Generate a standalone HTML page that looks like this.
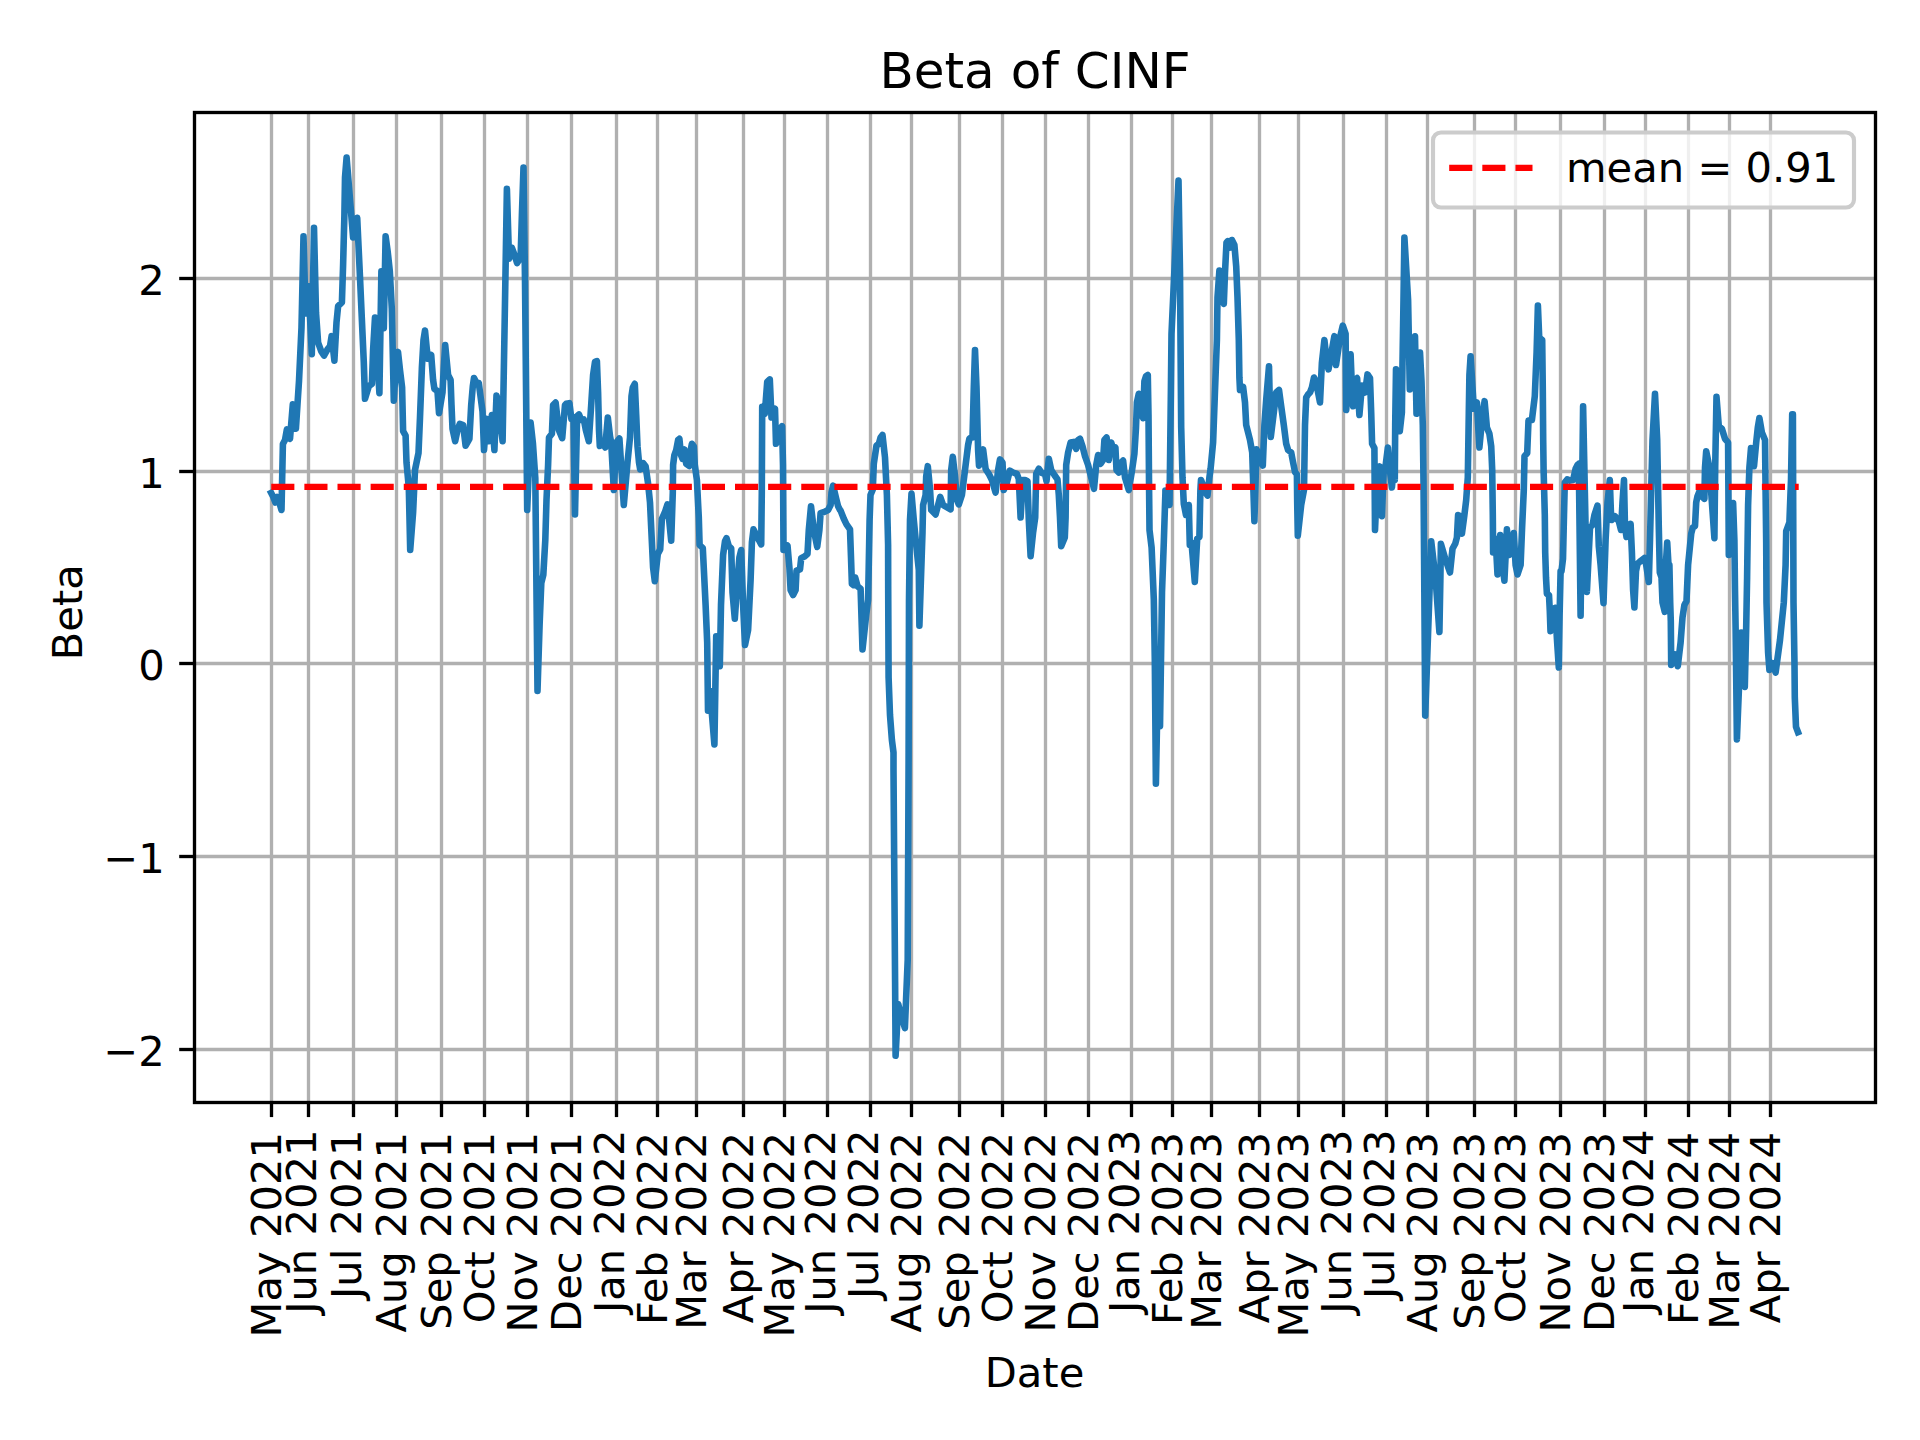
<!DOCTYPE html>
<html><head><meta charset="utf-8"><title>Beta of CINF</title>
<style>html,body{margin:0;padding:0;background:#fff}svg{display:block}text{font-family:"DejaVu Sans","Liberation Sans",sans-serif;fill:#000}</style></head><body>
<svg width="1920" height="1440" viewBox="0 0 1920 1440">
<rect width="1920" height="1440" fill="#fff"/>
<g stroke="#b0b0b0" stroke-width="3.333" fill="none">
<line x1="271.50" y1="112.50" x2="271.50" y2="1102.50"/>
<line x1="308.50" y1="112.50" x2="308.50" y2="1102.50"/>
<line x1="353.50" y1="112.50" x2="353.50" y2="1102.50"/>
<line x1="396.50" y1="112.50" x2="396.50" y2="1102.50"/>
<line x1="441.50" y1="112.50" x2="441.50" y2="1102.50"/>
<line x1="484.50" y1="112.50" x2="484.50" y2="1102.50"/>
<line x1="527.50" y1="112.50" x2="527.50" y2="1102.50"/>
<line x1="571.50" y1="112.50" x2="571.50" y2="1102.50"/>
<line x1="616.50" y1="112.50" x2="616.50" y2="1102.50"/>
<line x1="657.50" y1="112.50" x2="657.50" y2="1102.50"/>
<line x1="696.50" y1="112.50" x2="696.50" y2="1102.50"/>
<line x1="743.50" y1="112.50" x2="743.50" y2="1102.50"/>
<line x1="784.50" y1="112.50" x2="784.50" y2="1102.50"/>
<line x1="827.50" y1="112.50" x2="827.50" y2="1102.50"/>
<line x1="870.50" y1="112.50" x2="870.50" y2="1102.50"/>
<line x1="911.50" y1="112.50" x2="911.50" y2="1102.50"/>
<line x1="959.50" y1="112.50" x2="959.50" y2="1102.50"/>
<line x1="1002.50" y1="112.50" x2="1002.50" y2="1102.50"/>
<line x1="1045.50" y1="112.50" x2="1045.50" y2="1102.50"/>
<line x1="1088.50" y1="112.50" x2="1088.50" y2="1102.50"/>
<line x1="1131.50" y1="112.50" x2="1131.50" y2="1102.50"/>
<line x1="1172.50" y1="112.50" x2="1172.50" y2="1102.50"/>
<line x1="1211.50" y1="112.50" x2="1211.50" y2="1102.50"/>
<line x1="1259.50" y1="112.50" x2="1259.50" y2="1102.50"/>
<line x1="1298.50" y1="112.50" x2="1298.50" y2="1102.50"/>
<line x1="1343.50" y1="112.50" x2="1343.50" y2="1102.50"/>
<line x1="1386.50" y1="112.50" x2="1386.50" y2="1102.50"/>
<line x1="1427.50" y1="112.50" x2="1427.50" y2="1102.50"/>
<line x1="1474.50" y1="112.50" x2="1474.50" y2="1102.50"/>
<line x1="1515.50" y1="112.50" x2="1515.50" y2="1102.50"/>
<line x1="1560.50" y1="112.50" x2="1560.50" y2="1102.50"/>
<line x1="1604.50" y1="112.50" x2="1604.50" y2="1102.50"/>
<line x1="1645.50" y1="112.50" x2="1645.50" y2="1102.50"/>
<line x1="1688.50" y1="112.50" x2="1688.50" y2="1102.50"/>
<line x1="1729.50" y1="112.50" x2="1729.50" y2="1102.50"/>
<line x1="1770.50" y1="112.50" x2="1770.50" y2="1102.50"/>
<line x1="194.50" y1="278.50" x2="1875.50" y2="278.50"/>
<line x1="194.50" y1="471.50" x2="1875.50" y2="471.50"/>
<line x1="194.50" y1="663.50" x2="1875.50" y2="663.50"/>
<line x1="194.50" y1="856.50" x2="1875.50" y2="856.50"/>
<line x1="194.50" y1="1049.50" x2="1875.50" y2="1049.50"/>
</g>
<polyline fill="none" stroke="#1f77b4" stroke-width="6.6" stroke-linejoin="round" stroke-linecap="square" points="271.2,493.0 273.3,497.0 275.4,502.5 277.4,497.0 279.5,503.0 281.5,510.0 282.9,444.0 285.0,440.0 286.9,429.4 290.0,438.8 292.8,404.4 295.9,428.8 299.0,381.0 301.5,327.5 303.5,236.4 305.6,313.5 308.6,286.4 311.8,354.2 314.0,227.7 316.0,312.5 318.1,342.5 321.2,351.2 324.0,355.6 327.5,349.4 330.0,346.2 331.6,336.2 334.4,360.6 336.5,322.5 338.1,306.2 341.9,302.5 343.1,265.0 344.4,215.0 345.0,177.5 346.6,157.5 353.1,237.5 357.2,217.8 360.0,277.5 361.8,318.0 363.8,362.5 365.0,398.8 368.8,386.2 371.9,383.8 373.1,350.0 375.0,317.5 376.9,350.0 379.4,393.1 381.4,271.2 383.8,328.1 385.6,236.2 387.8,252.5 389.8,271.2 391.8,308.8 393.8,400.6 396.0,362.5 398.0,351.9 400.0,370.0 402.1,387.5 403.1,431.2 405.6,435.6 406.5,462.5 408.8,487.5 410.2,550.0 413.1,512.5 415.0,470.0 418.5,453.0 420.0,417.5 421.9,367.5 423.5,340.0 425.0,330.6 426.9,350.0 428.1,358.8 431.2,355.0 433.1,380.0 434.4,388.8 437.5,391.2 439.0,413.1 442.5,392.5 443.8,367.5 445.2,345.0 448.1,375.0 450.6,380.0 451.5,405.0 452.5,428.8 455.2,441.2 457.5,430.0 459.8,423.8 463.1,425.0 465.6,445.6 469.4,438.8 471.2,405.0 472.8,386.2 474.0,378.1 476.9,383.8 478.8,383.1 482.5,411.2 484.0,450.0 486.5,418.8 488.8,441.2 491.9,415.0 494.4,450.0 496.5,395.6 498.5,403.8 500.6,423.8 502.6,441.2 504.7,320.0 506.9,188.8 509.0,258.8 511.9,247.8 515.0,256.2 517.1,263.1 520.6,257.5 521.9,215.0 523.5,167.5 525.0,280.0 527.2,510.0 530.6,422.5 532.9,443.0 535.3,478.0 537.5,691.0 539.6,625.0 541.3,583.0 543.3,575.0 545.3,540.0 546.5,500.0 548.1,465.0 549.0,437.5 551.9,433.8 553.1,405.0 555.6,402.5 558.8,430.0 562.2,438.1 565.0,405.0 566.2,403.8 569.4,403.1 571.4,418.8 573.5,417.5 575.0,514.4 577.1,416.2 579.0,414.4 581.2,420.0 583.8,419.4 585.8,430.0 588.8,441.2 591.2,405.0 593.1,375.0 595.0,361.9 596.9,361.2 598.1,392.5 599.0,430.0 599.8,446.0 602.5,441.0 605.2,447.5 607.8,417.5 610.0,436.2 611.2,442.5 613.8,490.0 616.2,442.5 619.4,438.5 623.8,505.0 627.5,462.5 630.0,437.5 631.5,396.2 632.8,387.5 634.8,383.8 636.2,415.0 637.5,446.2 639.0,462.5 640.2,469.4 643.1,463.1 645.6,466.2 648.1,483.8 650.0,502.5 651.9,542.5 653.1,567.5 654.8,581.2 657.8,553.8 660.2,549.4 661.9,518.8 664.8,512.5 667.5,504.4 669.4,522.5 671.2,540.6 672.8,492.5 673.1,465.0 674.4,455.0 676.2,450.0 678.1,440.0 679.4,438.8 681.0,455.0 682.5,458.8 684.4,449.4 686.2,463.8 689.4,466.0 690.2,452.5 691.9,443.8 693.8,446.2 694.8,465.0 696.9,480.0 698.8,517.5 699.6,545.0 702.8,548.1 705.6,605.0 707.2,642.5 708.0,710.6 710.0,690.6 714.4,744.4 716.2,636.2 719.8,666.2 721.0,605.0 723.1,555.0 725.0,541.2 726.5,538.1 728.8,546.2 731.2,548.5 732.5,592.5 734.8,618.8 737.5,580.0 739.4,557.5 741.2,550.0 743.1,605.0 745.0,645.0 748.1,630.0 750.6,580.0 751.9,542.5 753.5,529.4 756.9,536.2 761.2,544.4 761.8,492.5 762.2,406.9 764.8,413.8 767.2,381.9 769.8,379.4 771.5,417.5 773.1,411.2 775.0,408.8 776.0,443.8 780.0,430.0 782.1,426.2 783.0,465.0 783.5,550.0 787.5,545.6 789.4,567.5 790.6,590.0 793.1,595.0 795.6,590.0 796.5,570.6 800.0,569.4 801.2,558.1 805.0,556.2 807.5,553.8 808.8,530.0 811.0,506.2 813.8,530.0 817.2,546.9 819.4,530.0 820.6,513.1 824.4,511.9 828.1,510.0 830.6,505.0 831.5,492.5 833.1,485.6 836.2,498.8 838.1,506.2 840.0,510.0 840.6,510.6 843.8,518.8 846.5,524.4 850.0,529.4 851.0,557.5 851.9,583.8 853.5,585.0 855.2,577.5 857.5,586.2 860.6,588.8 862.5,649.4 866.2,615.0 868.1,600.0 869.6,520.0 870.5,495.0 872.8,489.4 873.8,463.8 876.5,445.6 878.8,443.8 880.6,437.5 882.5,435.0 885.0,457.5 886.9,495.0 888.1,545.0 888.2,590.0 888.6,677.5 890.0,715.0 891.9,740.0 893.5,752.5 893.5,770.0 895.1,982.0 895.6,1055.8 898.2,1004.0 901.0,1015.0 904.9,1028.0 907.7,960.0 908.6,760.0 909.0,600.0 910.0,520.0 911.5,493.8 913.8,520.0 916.2,545.0 918.8,570.0 919.4,625.6 922.5,532.5 923.1,505.0 925.6,495.0 926.2,476.2 927.8,466.2 930.0,488.8 931.2,510.0 935.6,514.4 938.1,505.0 940.2,496.9 943.1,505.0 945.0,506.2 950.6,509.4 951.2,470.0 952.8,456.9 955.0,476.2 956.9,500.0 958.8,504.4 961.9,495.0 965.0,470.0 968.1,445.0 969.4,438.8 971.2,437.5 972.5,437.5 973.8,387.5 975.0,350.0 976.5,387.5 978.1,450.0 979.0,465.6 983.1,449.4 985.6,468.8 986.2,470.0 988.8,473.8 991.9,480.0 995.6,492.5 998.1,470.0 1000.0,459.4 1002.5,462.5 1003.8,490.0 1006.9,482.5 1009.8,470.6 1013.1,472.5 1016.9,473.8 1018.8,478.8 1020.6,517.5 1022.8,480.0 1025.0,480.0 1027.5,481.2 1028.8,520.0 1030.6,556.2 1033.1,532.5 1035.2,517.5 1036.2,473.8 1038.8,468.8 1041.9,473.1 1045.0,473.8 1046.5,481.2 1048.8,458.8 1051.2,470.0 1054.4,475.0 1057.5,479.4 1058.8,495.0 1060.0,517.5 1061.2,546.2 1064.8,537.5 1065.6,517.5 1066.2,465.0 1068.1,452.5 1070.6,442.5 1073.8,441.9 1076.2,448.8 1078.1,440.0 1080.0,438.8 1082.5,446.2 1085.0,456.2 1088.1,465.0 1091.2,477.5 1094.0,488.8 1096.2,465.0 1098.1,455.0 1100.6,463.8 1103.1,460.0 1104.4,440.0 1106.6,437.5 1108.8,460.0 1111.2,442.5 1113.1,448.8 1115.4,447.5 1116.5,470.0 1118.8,472.5 1121.2,462.5 1123.1,460.6 1125.0,477.5 1128.8,490.0 1131.9,471.2 1134.4,453.8 1136.0,427.5 1136.9,402.5 1138.8,393.8 1140.4,400.0 1141.9,415.0 1143.1,418.1 1144.4,381.2 1146.0,376.2 1147.8,375.0 1148.5,415.0 1149.0,480.0 1149.5,530.0 1151.6,547.5 1153.8,598.8 1154.8,660.0 1155.9,783.8 1157.9,677.5 1160.0,726.2 1162.0,592.5 1163.8,542.5 1165.4,492.5 1165.4,490.6 1167.5,495.0 1169.5,505.0 1170.0,465.0 1170.9,390.0 1171.5,333.8 1178.5,180.6 1180.0,272.5 1180.5,340.0 1181.2,427.5 1182.5,477.5 1183.8,503.8 1186.0,515.0 1188.8,505.0 1189.8,545.0 1191.5,542.5 1194.8,581.9 1197.2,538.8 1199.4,536.9 1200.4,490.0 1201.0,480.0 1203.8,487.5 1205.6,492.5 1207.5,495.6 1209.4,477.5 1210.6,468.8 1213.1,442.5 1214.8,396.2 1216.9,340.0 1217.5,297.5 1219.4,270.6 1221.9,297.5 1223.8,303.8 1225.0,272.5 1226.5,242.5 1227.8,241.2 1229.8,247.5 1231.9,240.0 1234.4,245.0 1236.2,266.2 1237.5,297.5 1238.8,340.0 1239.4,377.5 1240.0,390.0 1243.1,386.9 1245.0,402.5 1246.2,425.0 1250.0,440.0 1252.2,452.5 1254.4,521.2 1256.5,449.4 1260.0,460.0 1262.8,465.6 1264.4,425.0 1266.2,400.0 1269.0,366.2 1270.0,412.5 1270.8,436.9 1273.8,412.5 1276.2,392.5 1279.0,390.0 1281.2,406.2 1283.8,425.0 1286.2,443.8 1288.1,450.0 1291.2,452.5 1293.1,462.5 1295.0,471.9 1296.9,474.4 1297.2,502.5 1297.8,535.6 1301.2,505.0 1304.0,490.0 1305.0,425.0 1306.2,397.5 1308.1,394.4 1310.0,392.5 1311.9,387.5 1314.0,377.5 1315.9,381.2 1320.0,402.5 1321.9,362.5 1324.4,340.0 1326.9,362.5 1328.5,369.4 1331.9,350.0 1334.4,336.2 1336.0,365.0 1340.0,337.5 1342.8,325.6 1345.6,333.8 1346.2,410.0 1348.5,375.0 1350.6,354.4 1351.9,387.5 1353.1,406.2 1355.0,380.0 1357.1,378.1 1359.4,415.0 1361.9,385.6 1365.0,392.5 1367.5,374.4 1370.0,378.1 1371.2,412.5 1372.1,443.8 1374.4,448.1 1375.0,530.0 1377.5,472.5 1379.8,466.5 1381.9,516.2 1383.8,468.8 1385.6,465.6 1387.9,447.5 1390.0,471.2 1391.9,487.5 1394.0,465.0 1394.8,480.0 1395.2,425.0 1396.0,369.4 1397.8,400.0 1399.8,431.2 1401.9,412.5 1402.5,362.5 1403.5,300.0 1404.4,237.5 1408.1,300.0 1409.8,389.4 1412.5,362.5 1415.0,336.2 1416.5,413.8 1418.1,387.5 1420.0,352.5 1421.5,381.2 1422.8,425.0 1423.5,481.2 1424.4,600.0 1425.2,715.6 1430.0,578.0 1431.2,541.2 1435.6,578.8 1439.4,631.9 1440.4,577.5 1440.9,543.8 1445.0,558.0 1450.0,572.5 1452.5,548.8 1455.2,543.8 1456.9,537.5 1458.1,515.0 1460.2,516.2 1461.9,533.8 1464.4,515.0 1466.2,500.0 1467.8,477.5 1468.8,412.5 1469.4,375.0 1470.6,356.2 1472.5,387.5 1473.8,408.8 1476.9,402.5 1478.1,425.0 1479.4,447.5 1482.5,415.0 1484.6,401.2 1486.9,427.5 1489.4,433.8 1491.2,446.2 1492.2,470.0 1492.8,515.0 1493.1,552.5 1495.6,538.8 1497.5,574.4 1500.2,535.0 1502.5,565.0 1504.4,580.6 1506.9,529.4 1509.4,555.0 1511.5,552.5 1513.8,533.1 1515.6,565.0 1517.5,574.4 1520.6,565.0 1522.1,527.5 1523.8,490.0 1524.5,456.2 1527.2,453.1 1528.5,420.6 1531.9,420.0 1534.8,396.2 1536.6,352.5 1537.9,305.6 1539.2,337.5 1542.2,340.0 1542.8,390.0 1543.2,440.0 1543.6,470.0 1544.8,515.0 1545.2,552.5 1546.0,577.5 1546.9,593.8 1549.0,595.0 1549.8,611.2 1550.5,631.2 1553.1,617.5 1555.2,607.8 1557.0,640.0 1558.8,667.5 1559.6,615.0 1560.6,571.2 1561.5,571.2 1563.0,558.8 1564.0,515.0 1564.8,482.5 1567.2,479.4 1570.0,480.6 1573.1,480.0 1575.6,468.8 1577.5,465.0 1578.8,463.8 1580.6,615.6 1583.1,406.2 1586.9,591.9 1590.0,527.5 1592.5,525.0 1594.4,515.0 1597.5,505.6 1598.8,546.2 1600.6,565.0 1603.5,603.1 1605.6,540.0 1607.5,502.5 1609.8,480.0 1611.0,515.0 1611.9,520.0 1615.0,516.2 1618.8,521.2 1621.0,530.0 1622.5,502.5 1624.0,480.0 1625.0,527.5 1626.5,536.9 1630.6,523.8 1631.9,552.5 1633.1,590.0 1634.4,607.5 1636.0,571.2 1637.5,563.8 1641.2,560.6 1644.4,558.1 1646.2,565.0 1648.8,581.9 1650.0,540.0 1651.2,490.0 1652.5,440.0 1655.0,393.8 1657.2,440.0 1658.8,527.5 1659.8,572.5 1661.5,577.5 1662.5,602.5 1664.8,611.9 1665.8,565.0 1667.2,542.5 1668.5,565.0 1669.4,565.0 1670.2,602.5 1670.8,621.2 1671.2,665.0 1675.2,654.4 1677.8,666.2 1680.6,642.5 1682.5,617.5 1684.4,605.0 1686.5,601.2 1688.1,565.0 1691.2,533.8 1692.8,527.5 1695.0,526.2 1696.2,502.5 1697.5,496.2 1700.0,490.0 1700.6,495.0 1704.4,498.8 1705.0,467.5 1706.2,451.2 1709.4,467.5 1711.2,492.5 1714.4,538.1 1715.2,467.5 1716.5,396.9 1718.8,426.2 1721.9,428.8 1725.0,438.8 1728.1,442.5 1728.5,505.0 1728.8,555.0 1731.0,530.0 1733.1,503.1 1734.4,540.0 1735.0,590.0 1735.6,627.5 1736.2,677.5 1736.9,739.4 1741.2,632.5 1744.8,686.9 1746.2,627.5 1747.1,577.5 1748.1,505.0 1749.4,467.5 1751.0,448.1 1754.0,466.2 1756.2,442.5 1757.8,427.5 1759.4,418.1 1761.9,432.5 1765.0,440.0 1765.6,492.5 1766.2,542.5 1766.5,602.5 1768.1,652.5 1769.4,670.0 1772.5,663.1 1775.6,672.5 1780.0,640.0 1783.8,602.5 1785.6,565.0 1786.2,531.2 1789.4,522.5 1791.0,480.0 1792.2,414.4 1792.9,414.4 1793.5,602.5 1794.5,665.0 1794.8,697.5 1796.0,726.9 1798.0,732.2"/>
<line x1="271.25" y1="486.9" x2="1798.7" y2="486.9" stroke="#ff0000" stroke-width="6.25" stroke-dasharray="23.125 10"/>
<g stroke="#000" stroke-width="3.333">
<line x1="271.50" y1="1102.50" x2="271.50" y2="1117.08"/>
<line x1="308.50" y1="1102.50" x2="308.50" y2="1117.08"/>
<line x1="353.50" y1="1102.50" x2="353.50" y2="1117.08"/>
<line x1="396.50" y1="1102.50" x2="396.50" y2="1117.08"/>
<line x1="441.50" y1="1102.50" x2="441.50" y2="1117.08"/>
<line x1="484.50" y1="1102.50" x2="484.50" y2="1117.08"/>
<line x1="527.50" y1="1102.50" x2="527.50" y2="1117.08"/>
<line x1="571.50" y1="1102.50" x2="571.50" y2="1117.08"/>
<line x1="616.50" y1="1102.50" x2="616.50" y2="1117.08"/>
<line x1="657.50" y1="1102.50" x2="657.50" y2="1117.08"/>
<line x1="696.50" y1="1102.50" x2="696.50" y2="1117.08"/>
<line x1="743.50" y1="1102.50" x2="743.50" y2="1117.08"/>
<line x1="784.50" y1="1102.50" x2="784.50" y2="1117.08"/>
<line x1="827.50" y1="1102.50" x2="827.50" y2="1117.08"/>
<line x1="870.50" y1="1102.50" x2="870.50" y2="1117.08"/>
<line x1="911.50" y1="1102.50" x2="911.50" y2="1117.08"/>
<line x1="959.50" y1="1102.50" x2="959.50" y2="1117.08"/>
<line x1="1002.50" y1="1102.50" x2="1002.50" y2="1117.08"/>
<line x1="1045.50" y1="1102.50" x2="1045.50" y2="1117.08"/>
<line x1="1088.50" y1="1102.50" x2="1088.50" y2="1117.08"/>
<line x1="1131.50" y1="1102.50" x2="1131.50" y2="1117.08"/>
<line x1="1172.50" y1="1102.50" x2="1172.50" y2="1117.08"/>
<line x1="1211.50" y1="1102.50" x2="1211.50" y2="1117.08"/>
<line x1="1259.50" y1="1102.50" x2="1259.50" y2="1117.08"/>
<line x1="1298.50" y1="1102.50" x2="1298.50" y2="1117.08"/>
<line x1="1343.50" y1="1102.50" x2="1343.50" y2="1117.08"/>
<line x1="1386.50" y1="1102.50" x2="1386.50" y2="1117.08"/>
<line x1="1427.50" y1="1102.50" x2="1427.50" y2="1117.08"/>
<line x1="1474.50" y1="1102.50" x2="1474.50" y2="1117.08"/>
<line x1="1515.50" y1="1102.50" x2="1515.50" y2="1117.08"/>
<line x1="1560.50" y1="1102.50" x2="1560.50" y2="1117.08"/>
<line x1="1604.50" y1="1102.50" x2="1604.50" y2="1117.08"/>
<line x1="1645.50" y1="1102.50" x2="1645.50" y2="1117.08"/>
<line x1="1688.50" y1="1102.50" x2="1688.50" y2="1117.08"/>
<line x1="1729.50" y1="1102.50" x2="1729.50" y2="1117.08"/>
<line x1="1770.50" y1="1102.50" x2="1770.50" y2="1117.08"/>
<line x1="179.20" y1="278.50" x2="194.50" y2="278.50"/>
<line x1="179.20" y1="471.50" x2="194.50" y2="471.50"/>
<line x1="179.20" y1="663.50" x2="194.50" y2="663.50"/>
<line x1="179.20" y1="856.50" x2="194.50" y2="856.50"/>
<line x1="179.20" y1="1049.50" x2="194.50" y2="1049.50"/>
</g>
<rect x="194.50" y="112.50" width="1681.00" height="990.00" fill="none" stroke="#000" stroke-width="3.333"/>
<text font-size="41.667" text-anchor="end" transform="translate(281.05,1132.00) rotate(-90)">May 2021</text>
<text font-size="41.667" text-anchor="end" transform="translate(316.05,1129.50) rotate(-90)">Jun 2021</text>
<text font-size="41.667" text-anchor="end" transform="translate(361.05,1129.50) rotate(-90)">Jul 2021</text>
<text font-size="41.667" text-anchor="end" transform="translate(406.05,1132.00) rotate(-90)">Aug 2021</text>
<text font-size="41.667" text-anchor="end" transform="translate(451.05,1132.00) rotate(-90)">Sep 2021</text>
<text font-size="41.667" text-anchor="end" transform="translate(494.05,1132.00) rotate(-90)">Oct 2021</text>
<text font-size="41.667" text-anchor="end" transform="translate(537.05,1132.00) rotate(-90)">Nov 2021</text>
<text font-size="41.667" text-anchor="end" transform="translate(581.05,1132.00) rotate(-90)">Dec 2021</text>
<text font-size="41.667" text-anchor="end" transform="translate(624.05,1129.50) rotate(-90)">Jan 2022</text>
<text font-size="41.667" text-anchor="end" transform="translate(667.05,1132.00) rotate(-90)">Feb 2022</text>
<text font-size="41.667" text-anchor="end" transform="translate(706.05,1132.00) rotate(-90)">Mar 2022</text>
<text font-size="41.667" text-anchor="end" transform="translate(753.05,1132.00) rotate(-90)">Apr 2022</text>
<text font-size="41.667" text-anchor="end" transform="translate(794.05,1132.00) rotate(-90)">May 2022</text>
<text font-size="41.667" text-anchor="end" transform="translate(835.05,1129.50) rotate(-90)">Jun 2022</text>
<text font-size="41.667" text-anchor="end" transform="translate(878.05,1129.50) rotate(-90)">Jul 2022</text>
<text font-size="41.667" text-anchor="end" transform="translate(921.05,1132.00) rotate(-90)">Aug 2022</text>
<text font-size="41.667" text-anchor="end" transform="translate(969.05,1132.00) rotate(-90)">Sep 2022</text>
<text font-size="41.667" text-anchor="end" transform="translate(1012.05,1132.00) rotate(-90)">Oct 2022</text>
<text font-size="41.667" text-anchor="end" transform="translate(1055.05,1132.00) rotate(-90)">Nov 2022</text>
<text font-size="41.667" text-anchor="end" transform="translate(1098.05,1132.00) rotate(-90)">Dec 2022</text>
<text font-size="41.667" text-anchor="end" transform="translate(1139.05,1129.50) rotate(-90)">Jan 2023</text>
<text font-size="41.667" text-anchor="end" transform="translate(1182.05,1132.00) rotate(-90)">Feb 2023</text>
<text font-size="41.667" text-anchor="end" transform="translate(1221.05,1132.00) rotate(-90)">Mar 2023</text>
<text font-size="41.667" text-anchor="end" transform="translate(1269.05,1132.00) rotate(-90)">Apr 2023</text>
<text font-size="41.667" text-anchor="end" transform="translate(1308.05,1132.00) rotate(-90)">May 2023</text>
<text font-size="41.667" text-anchor="end" transform="translate(1351.05,1129.50) rotate(-90)">Jun 2023</text>
<text font-size="41.667" text-anchor="end" transform="translate(1394.05,1129.50) rotate(-90)">Jul 2023</text>
<text font-size="41.667" text-anchor="end" transform="translate(1437.05,1132.00) rotate(-90)">Aug 2023</text>
<text font-size="41.667" text-anchor="end" transform="translate(1484.05,1132.00) rotate(-90)">Sep 2023</text>
<text font-size="41.667" text-anchor="end" transform="translate(1525.05,1132.00) rotate(-90)">Oct 2023</text>
<text font-size="41.667" text-anchor="end" transform="translate(1570.05,1132.00) rotate(-90)">Nov 2023</text>
<text font-size="41.667" text-anchor="end" transform="translate(1614.05,1132.00) rotate(-90)">Dec 2023</text>
<text font-size="41.667" text-anchor="end" transform="translate(1653.05,1129.50) rotate(-90)">Jan 2024</text>
<text font-size="41.667" text-anchor="end" transform="translate(1698.05,1132.00) rotate(-90)">Feb 2024</text>
<text font-size="41.667" text-anchor="end" transform="translate(1739.05,1132.00) rotate(-90)">Mar 2024</text>
<text font-size="41.667" text-anchor="end" transform="translate(1780.05,1132.00) rotate(-90)">Apr 2024</text>
<text font-size="41.667" text-anchor="end" x="164.80" y="295.10">2</text>
<text font-size="41.667" text-anchor="end" x="164.80" y="488.10">1</text>
<text font-size="41.667" text-anchor="end" x="164.80" y="680.10">0</text>
<text font-size="41.667" text-anchor="end" x="164.80" y="873.10">−1</text>
<text font-size="41.667" text-anchor="end" x="164.80" y="1066.10">−2</text>
<text font-size="50" text-anchor="middle" x="1035" y="87.5">Beta of CINF</text>
<text font-size="41.667" text-anchor="middle" x="1034.5" y="1386.6">Date</text>
<text font-size="41.667" text-anchor="middle" transform="translate(82,612.2) rotate(-90)">Beta</text>
<rect x="1433" y="132.5" width="421" height="75" rx="8" ry="8" fill="#fff" fill-opacity="0.8" stroke="#cccccc" stroke-width="4.167"/>
<line x1="1449.2" y1="167.9" x2="1532.5" y2="167.9" stroke="#ff0000" stroke-width="6.25" stroke-dasharray="23.125 10"/>
<text font-size="41.667" x="1566" y="182.3">mean = 0.91</text>
</svg></body></html>
